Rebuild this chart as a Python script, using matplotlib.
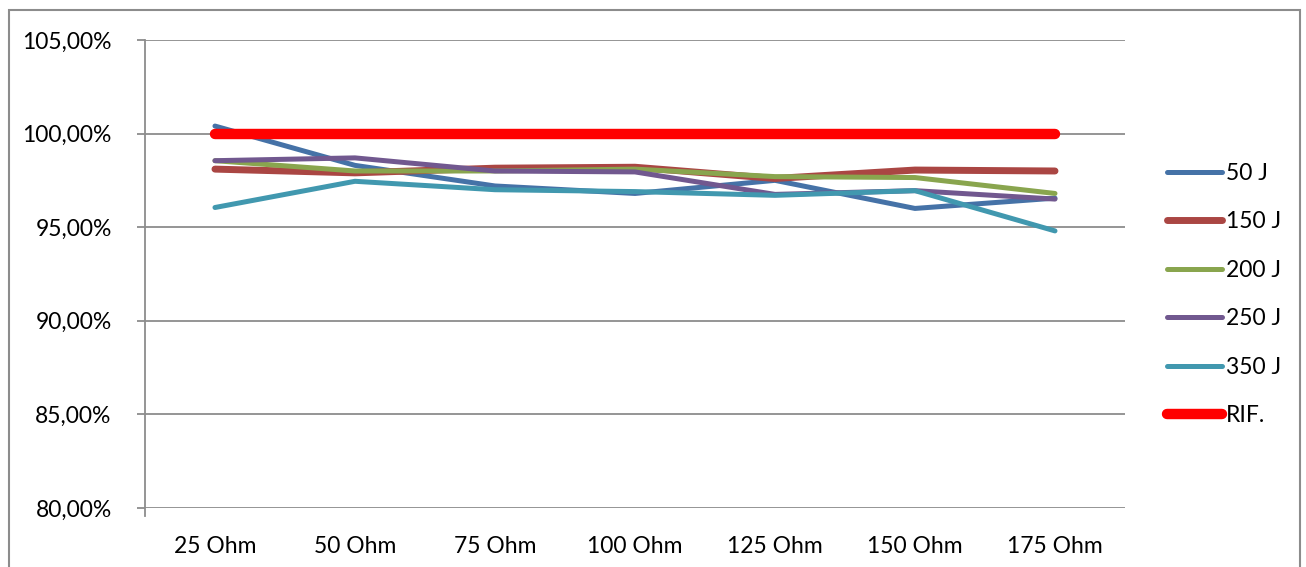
import numpy as np
import matplotlib.pyplot as plt
from matplotlib.patches import Rectangle

categories = ['25 Ohm', '50 Ohm', '75 Ohm', '100 Ohm', '125 Ohm', '150 Ohm', '175 Ohm']
s50 = [100.4, 98.3, 97.2, 96.8, 97.5, 96.0, 96.55]
s150 = [98.1, 97.9, 98.15, 98.2, 97.6, 98.05, 98.0]
s200 = [98.55, 98.0, 98.0, 98.1, 97.7, 97.65, 96.8]
s250 = [98.55, 98.7, 98.0, 97.95, 96.75, 96.95, 96.5]
s350 = [96.05, 97.45, 97.0, 96.9, 96.7, 96.95, 94.8]
rif = [100, 100, 100, 100, 100, 100, 100]

series = [
    ('50 J', s50, '#4572A7', 3.6),
    ('150 J', s150, '#AA4643', 5.0),
    ('200 J', s200, '#89A54E', 3.6),
    ('250 J', s250, '#71588F', 3.6),
    ('350 J', s350, '#4198AF', 3.6),
    ('RIF.', rif, '#FF0000', 7.5),
]

plt.rcParams['font.family'] = ['Lato', 'DejaVu Sans']

fig = plt.figure(figsize=(13.06, 5.67), dpi=100)
ax = fig.add_axes([0.111, 0.104, 0.7504, 0.8256])

x = np.arange(len(categories))
for name, vals, col, lw in series:
    ax.plot(x, vals, color=col, lw=lw, label=name, solid_capstyle='round')

ax.set_xlim(-0.5, len(categories) - 0.5)
ax.set_ylim(80, 105)
ax.set_yticks(np.arange(80, 106, 5))
ax.set_yticklabels(['%d,00%%' % v for v in np.arange(80, 106, 5)])
ax.set_xticks(x)
ax.set_xticklabels(categories)
ax.grid(axis='y', color='#8c8c8c', lw=1.3)
ax.set_axisbelow(True)
for s in ['top', 'right', 'bottom']:
    ax.spines[s].set_visible(False)
ax.spines['left'].set_color('#8c8c8c')
ax.spines['left'].set_linewidth(1.3)
ax.spines['left'].set_bounds(79.6, 105)
ax.tick_params(axis='y', length=6, color='#8c8c8c', width=1.3, labelsize=16.5, pad=18)
ax.tick_params(axis='x', length=0, labelsize=16.5, pad=20)

leg = ax.legend(loc='center left', bbox_to_anchor=(1.022, 0.456), frameon=False,
                fontsize=16.5, handlelength=2.4, handletextpad=0.15, labelspacing=1.2)

# outer chart border
fig.patches.append(Rectangle((9 / 1306, -0.05), 1291 / 1306, 1.05 - 10 / 567,
                             transform=fig.transFigure, fill=False,
                             edgecolor='#8c8c8c', lw=1.5))

fig.savefig('out.png', dpi=100)
